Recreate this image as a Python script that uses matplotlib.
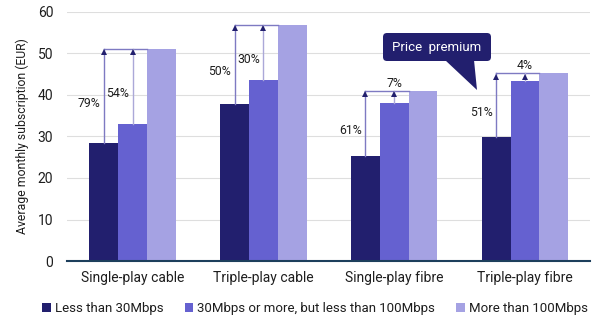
import matplotlib.pyplot as plt
import numpy as np
from matplotlib.patches import FancyBboxPatch, Polygon

plt.rcParams['font.family'] = ['Roboto', 'DejaVu Sans']

categories = ['Single-play cable', 'Triple-play cable', 'Single-play fibre', 'Triple-play fibre']
series_names = ['Less than 30Mbps', '30Mbps or more, but less than 100Mbps', 'More than 100Mbps']
low_speed = [28.5, 37.9, 25.3, 29.8]
mid_speed = [33.1, 43.6, 38.1, 43.4]
high_speed = [51.1, 56.9, 41.0, 45.2]
premium_low = ['79%', '50%', '61%', '51%']
premium_mid = ['54%', '30%', '7%', '4%']

colors = ['#221f6e', '#6561d0', '#a5a2e3']
line_low = '#7e7ac2'
line_mid = '#aba8d8'
navy = '#221f6e'
text_col = '#1e1e1e'

fig = plt.figure(figsize=(6, 3.3), dpi=100)
ax = fig.add_axes([0.112, 0.209, 0.872, 0.755])

x = np.arange(len(categories))
w = 0.22
series = [low_speed, mid_speed, high_speed]
for i, (vals, name) in enumerate(zip(series, series_names)):
    ax.bar(x + (i - 1) * w, vals, w, color=colors[i], label=name, zorder=2)

# price premium arrows
for k in range(len(categories)):
    top = high_speed[k]
    left_x = x[k] - w
    ax.plot([left_x, x[k] + w / 2], [top, top], color=line_low, lw=1.0, zorder=3)
    for xi, base, lab, lc in [(left_x, low_speed[k], premium_low[k], line_low),
                              (x[k], mid_speed[k], premium_mid[k], line_mid)]:
        ax.plot([xi, xi], [base, top], color=lc, lw=1.0, zorder=3)
        ax.plot([xi], [top - 0.8], marker='^', color=navy, ms=4, mew=0, zorder=4)
        if top - base < 5:
            ax.text(xi, top + 0.3, lab, ha='center', va='bottom', fontsize=8.8, color=text_col)
        else:
            ax.text(xi - 0.025, (top + base) / 2 - 1.8, lab, ha='right', va='center',
                    fontsize=8.8, color=text_col)

ax.set_ylim(0, 60)
ax.set_xlim(-0.5, 3.5)
ax.set_yticks(range(0, 61, 10))
ax.set_xticks(x)
ax.set_xticklabels(categories)
ax.tick_params(length=0, labelsize=10, colors=text_col)
ax.tick_params(axis='x', pad=7)
ax.tick_params(axis='y', pad=10)
ax.grid(axis='y', color='#dedede', lw=0.8, zorder=0)
for s in ['top', 'right', 'left']:
    ax.spines[s].set_visible(False)
ax.spines['bottom'].set_color('#1d3f5c')
ax.spines['bottom'].set_linewidth(1.5)
ax.set_ylabel('Average monthly subscription (EUR)', fontsize=8.8, color=text_col, labelpad=6)

# callout
box = FancyBboxPatch((383, 269), 108, 28, boxstyle='round,pad=0,rounding_size=4',
                     transform=None, facecolor=navy, edgecolor='none', zorder=5)
fig.patches.append(box)
tail = Polygon([[445, 270], [474, 270], [477, 240]], closed=True, transform=None,
               facecolor=navy, edgecolor='none', zorder=5)
fig.patches.append(tail)
fig.text(437 / 600, 283 / 330, 'Price  premium', ha='center', va='center',
         color='white', fontsize=9.5, zorder=6)

fig.legend(loc='lower center', bbox_to_anchor=(0.525, 0.01), ncol=3, frameon=False,
           fontsize=9.5, handlelength=0.65, handleheight=0.65, handletextpad=0.3,
           columnspacing=1.6, labelcolor=text_col)

fig.savefig('out.png', dpi=100)
